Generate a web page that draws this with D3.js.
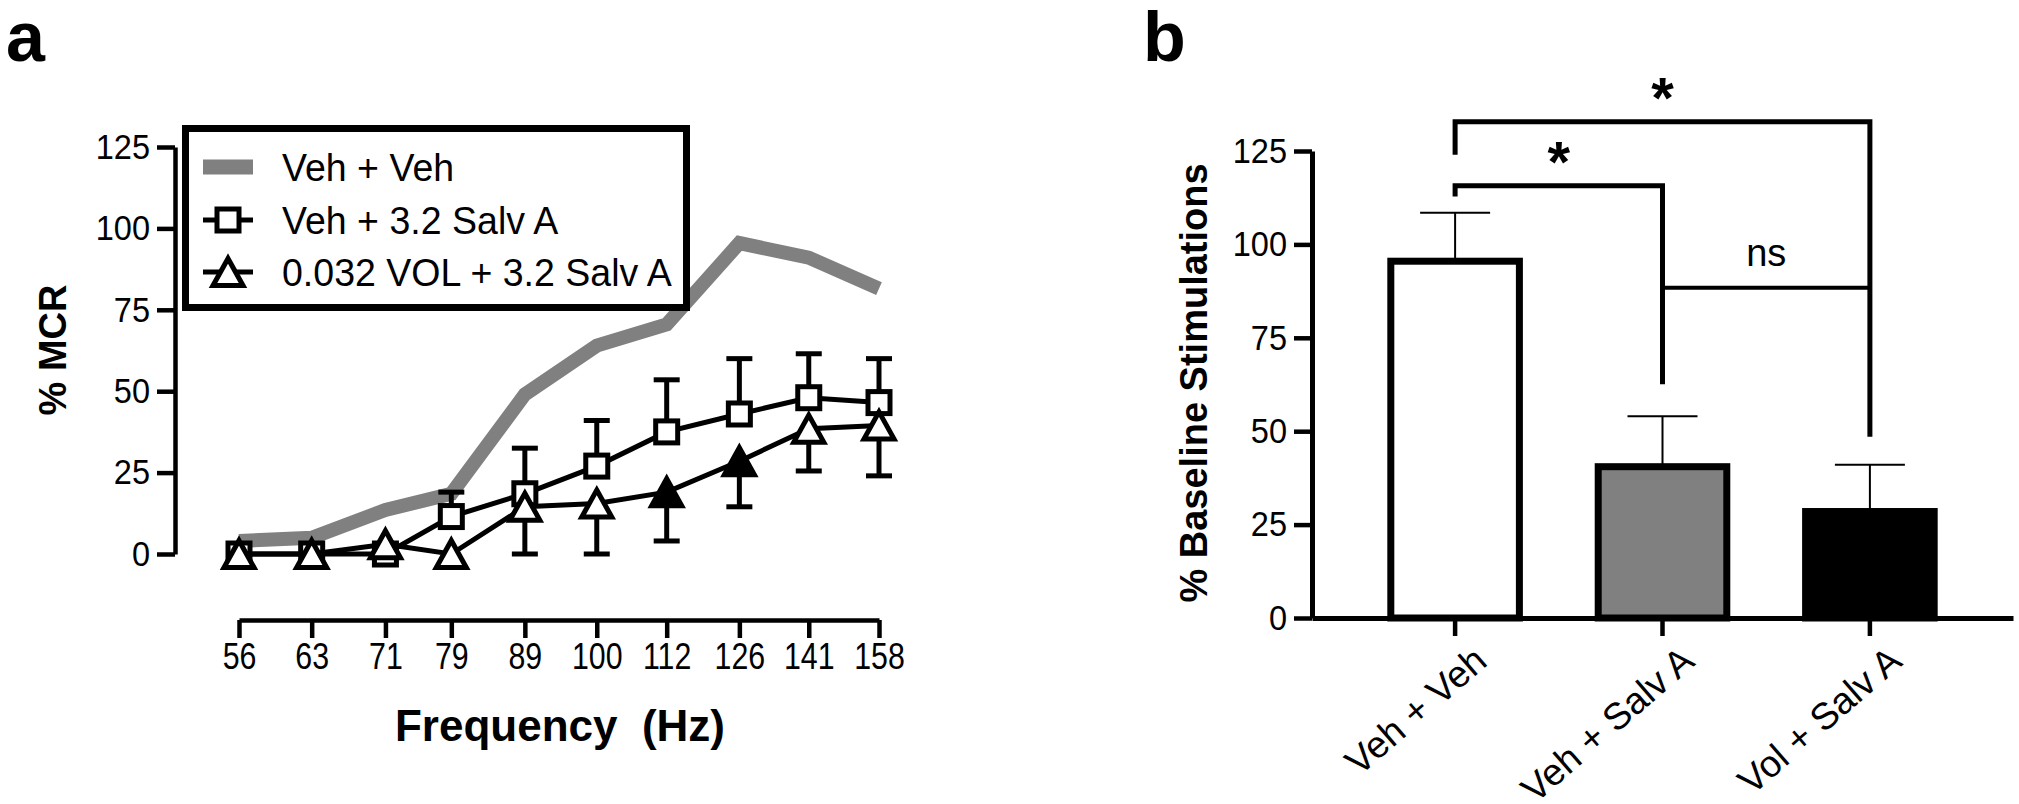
<!DOCTYPE html>
<html>
<head>
<meta charset="utf-8">
<script src="https://cdn.jsdelivr.net/npm/d3@7"></script>
<style>
  html, body { margin: 0; padding: 0; background: #fff; }
  svg { display: block; }
  text { font-family: "Liberation Sans", Arial, sans-serif; fill: #000; }
</style>
</head>
<body>
<svg id="chart" width="2019" height="804"></svg>
<script>
// ---------- Panel a data ----------
const freq = [56, 63, 71, 79, 89, 100, 112, 126, 141, 158];
const vehVeh = [4, 5, 13.5, 18.5, 49, 64, 70.5, 95.5, 91, 81.5];
const salvMean = [0, 0, 0, 11.5, 18.5, 27, 37.5, 43, 48, 46.5];
const salvErr = [0, 0, 0, 7.5, 14, 14, 16, 17, 13.5, 13.5];
const volMean = [0, 0, 3, 0, 14.5, 15.5, 19, 28.5, 38.5, 39.5];
const volErr = [0, 0, 0, 0, 14.5, 15.5, 15, 14, 13, 15.5];
const volFilled = [false, false, false, false, false, false, true, true, false, false];
const yTicksA = [0, 25, 50, 75, 100, 125];
const legendLabels = ["Veh + Veh", "Veh + 3.2 Salv A", "0.032 VOL + 3.2 Salv A"];

// ---------- Panel b data ----------
const groups = ["Veh + Veh", "Veh + Salv A", "Vol + Salv A"];
const barMean = [95.5, 40.5, 28.5];
const barErr = [13, 13.5, 12.5];
const barFill = ["#ffffff", "#808080", "#000000"];
const yTicksB = [0, 25, 50, 75, 100, 125];
const compFrom = ["Veh + Veh", "Veh + Veh", "Veh + Salv A"];
const compTo = ["Vol + Salv A", "Veh + Salv A", "Vol + Salv A"];
const compLevel = [132.8, 115.7, 88.4];
const compLegFrom = [124, 112.8, 88.4];
const compLegTo = [48.5, 62.6, 88.4];
const compLabel = ["*", "*", "ns"];

const svg = d3.select("#chart");
svg.append("rect").attr("width", 2019).attr("height", 804).attr("fill", "#fff");

// ================= Panel a =================
const gA = svg.append("g");
const xA = d3.scaleLog().domain([56, 158]).range([239, 879]);
const yA = d3.scaleLinear().domain([0, 125]).range([554, 147]);

const axYA = gA.append("g").attr("transform", "translate(175,0)")
  .call(d3.axisLeft(yA).tickValues(yTicksA).tickSize(18).tickSizeOuter(0).tickPadding(7));
const axXA = gA.append("g").attr("transform", "translate(0,620)")
  .call(d3.axisBottom(xA).tickValues(freq).tickFormat(d => d).tickSize(18).tickSizeOuter(0).tickPadding(5));
[axYA, axXA].forEach(ax => {
  ax.select(".domain").attr("stroke", "#000").attr("stroke-width", 4.5);
  ax.selectAll(".tick line").attr("stroke", "#000").attr("stroke-width", 4.5);
  ax.selectAll(".tick text").attr("font-family", "Liberation Sans, Arial, sans-serif");
});
axYA.selectAll(".tick text").attr("font-size", 35).attr("transform", "scale(0.93,1)")
  .attr("x", -25 / 0.93);
axXA.selectAll(".tick text").attr("font-size", 37).attr("transform", "scale(0.82,1)");

// gray line
gA.append("path")
  .datum(freq.map((f, i) => [f, vehVeh[i]]))
  .attr("fill", "none").attr("stroke", "#808080").attr("stroke-width", 14)
  .attr("stroke-linejoin", "miter")
  .attr("d", d3.line().x(d => xA(d[0])).y(d => yA(d[1])));

// legend box (white, over gray line)
const lg = gA.append("g");
lg.append("rect").attr("x", 185.5).attr("y", 128.5).attr("width", 501).attr("height", 179)
  .attr("fill", "#fff").attr("stroke", "#000").attr("stroke-width", 7);

const capW = 26;
const sq = 22, triW = 30, triH = 27;
const triPath = `M0,${-triH / 2} L${triW / 2},${triH / 2} L${-triW / 2},${triH / 2} Z`;

// squares series (error bars upward)
freq.forEach((f, i) => {
  if (salvErr[i] > 0) {
    const x = xA(f), y0 = yA(salvMean[i]), y1 = yA(salvMean[i] + salvErr[i]);
    gA.append("line").attr("x1", x).attr("x2", x).attr("y1", y0).attr("y2", y1).attr("stroke", "#000").attr("stroke-width", 5);
    gA.append("line").attr("x1", x - capW / 2).attr("x2", x + capW / 2).attr("y1", y1).attr("y2", y1).attr("stroke", "#000").attr("stroke-width", 5);
  }
});
gA.append("path")
  .datum(freq.map((f, i) => [f, salvMean[i]]))
  .attr("fill", "none").attr("stroke", "#000").attr("stroke-width", 5)
  .attr("d", d3.line().x(d => xA(d[0])).y(d => yA(d[1])));
gA.selectAll(".sq").data(freq.map((f, i) => [f, salvMean[i]])).join("rect")
  .attr("x", d => xA(d[0]) - sq / 2).attr("y", d => yA(d[1]) - sq / 2)
  .attr("width", sq).attr("height", sq)
  .attr("fill", "#fff").attr("stroke", "#000").attr("stroke-width", 5);

// triangles series (error bars downward)
freq.forEach((f, i) => {
  if (volErr[i] > 0) {
    const x = xA(f), y0 = yA(volMean[i]), y1 = yA(volMean[i] - volErr[i]);
    gA.append("line").attr("x1", x).attr("x2", x).attr("y1", y0).attr("y2", y1).attr("stroke", "#000").attr("stroke-width", 5);
    gA.append("line").attr("x1", x - capW / 2).attr("x2", x + capW / 2).attr("y1", y1).attr("y2", y1).attr("stroke", "#000").attr("stroke-width", 5);
  }
});
gA.append("path")
  .datum(freq.map((f, i) => [f, volMean[i]]))
  .attr("fill", "none").attr("stroke", "#000").attr("stroke-width", 5)
  .attr("d", d3.line().x(d => xA(d[0])).y(d => yA(d[1])));
gA.selectAll(".tri").data(freq.map((f, i) => [f, volMean[i], volFilled[i]])).join("path")
  .attr("d", triPath)
  .attr("transform", d => `translate(${xA(d[0])},${yA(d[1])})`)
  .attr("fill", d => d[2] ? "#000" : "#fff").attr("stroke", "#000").attr("stroke-width", 5);

// legend contents
const rowY = [167, 220, 272];
lg.append("rect").attr("x", 203).attr("y", rowY[0] - 7.5).attr("width", 50).attr("height", 15).attr("fill", "#808080");
lg.append("line").attr("x1", 203).attr("x2", 253).attr("y1", rowY[1]).attr("y2", rowY[1]).attr("stroke", "#000").attr("stroke-width", 5);
lg.append("rect").attr("x", 228 - sq / 2).attr("y", rowY[1] - sq / 2).attr("width", sq).attr("height", sq)
  .attr("fill", "#fff").attr("stroke", "#000").attr("stroke-width", 5);
lg.append("line").attr("x1", 203).attr("x2", 253).attr("y1", rowY[2]).attr("y2", rowY[2]).attr("stroke", "#000").attr("stroke-width", 5);
lg.append("path").attr("d", triPath).attr("transform", `translate(228,${rowY[2]})`)
  .attr("fill", "#fff").attr("stroke", "#000").attr("stroke-width", 5);
lg.selectAll(".lt").data(legendLabels).join("text")
  .attr("transform", (d, i) => `translate(282,${rowY[i]}) scale(0.95,1)`)
  .attr("dy", "0.36em")
  .attr("font-size", 39.5).text(d => d);

// axis titles panel a
gA.append("text").attr("transform", "translate(66,350) rotate(-90)")
  .attr("text-anchor", "middle").attr("font-size", 38).attr("font-weight", "bold").text("% MCR");
gA.append("text").attr("x", 560).attr("y", 741).attr("text-anchor", "middle")
  .attr("font-size", 44).attr("font-weight", "bold").style("white-space", "pre").text("Frequency  (Hz)");
svg.append("text").attr("x", 6).attr("y", 61).attr("font-size", 70).attr("font-weight", "bold").text("a");

// ================= Panel b =================
const gB = svg.append("g");
const xB = d3.scaleBand().domain(groups).range([1312, 2013]).padding(0.38);
const yB = d3.scaleLinear().domain([0, 125]).range([618, 151]);

const axYB = gB.append("g").attr("transform", "translate(1312,0)")
  .call(d3.axisLeft(yB).tickValues(yTicksB).tickSize(18).tickSizeOuter(0).tickPadding(7));
const axXB = gB.append("g").attr("transform", "translate(0,618)")
  .call(d3.axisBottom(xB).tickSize(18).tickSizeOuter(0).tickFormat(""));
[axYB, axXB].forEach(ax => {
  ax.select(".domain").attr("stroke", "#000").attr("stroke-width", 5);
  ax.selectAll(".tick line").attr("stroke", "#000").attr("stroke-width", 4.5);
  ax.selectAll(".tick text").attr("font-family", "Liberation Sans, Arial, sans-serif");
});
axYB.selectAll(".tick text").attr("font-size", 35).attr("transform", "scale(0.93,1)")
  .attr("x", -25 / 0.93);

// rotated category labels
gB.selectAll(".xl").data(groups).join("text")
  .attr("transform", d => `translate(${xB(d) + xB.bandwidth() / 2 + 34},664) rotate(-41)`)
  .attr("text-anchor", "end").attr("font-size", 37.5).text(d => d);

// error bars (thin, upward)
groups.forEach((g, i) => {
  const x = xB(g) + xB.bandwidth() / 2;
  const y0 = yB(barMean[i]), y1 = yB(barMean[i] + barErr[i]);
  gB.append("line").attr("x1", x).attr("x2", x).attr("y1", y0).attr("y2", y1).attr("stroke", "#000").attr("stroke-width", 2);
  gB.append("line").attr("x1", x - 35).attr("x2", x + 35).attr("y1", y1).attr("y2", y1).attr("stroke", "#000").attr("stroke-width", 2);
});
// bars
gB.selectAll(".bar").data(groups).join("rect")
  .attr("x", d => xB(d)).attr("width", xB.bandwidth())
  .attr("y", (d, i) => yB(barMean[i])).attr("height", (d, i) => yB(0) - yB(barMean[i]))
  .attr("fill", (d, i) => barFill[i]).attr("stroke", "#000").attr("stroke-width", 7);

// comparison brackets
compLabel.forEach((lab, i) => {
  const xa = xB(compFrom[i]) + xB.bandwidth() / 2;
  const xb = xB(compTo[i]) + xB.bandwidth() / 2;
  const yl = yB(compLevel[i]);
  const path = d3.path();
  path.moveTo(xa, yB(compLegFrom[i]));
  path.lineTo(xa, yl);
  path.lineTo(xb, yl);
  path.lineTo(xb, yB(compLegTo[i]));
  gB.append("path").attr("d", path.toString()).attr("fill", "none")
    .attr("stroke", "#000").attr("stroke-width", lab === "ns" ? 4 : 5).attr("stroke-linejoin", "miter");
  if (lab === "*") {
    gB.append("text").attr("x", (xa + xb) / 2).attr("y", yl - 4).attr("text-anchor", "middle")
      .attr("font-size", 58).attr("font-weight", "bold").text(lab);
  } else {
    gB.append("text").attr("x", (xa + xb) / 2).attr("y", yl - 22).attr("text-anchor", "middle")
      .attr("font-size", 38).text(lab);
  }
});

gB.append("text").attr("transform", "translate(1207,383) rotate(-90)")
  .attr("text-anchor", "middle").attr("font-size", 38).attr("font-weight", "bold").text("% Baseline Stimulations");
svg.append("text").attr("x", 1143).attr("y", 61).attr("font-size", 70).attr("font-weight", "bold").text("b");
</script>
</body>
</html>
